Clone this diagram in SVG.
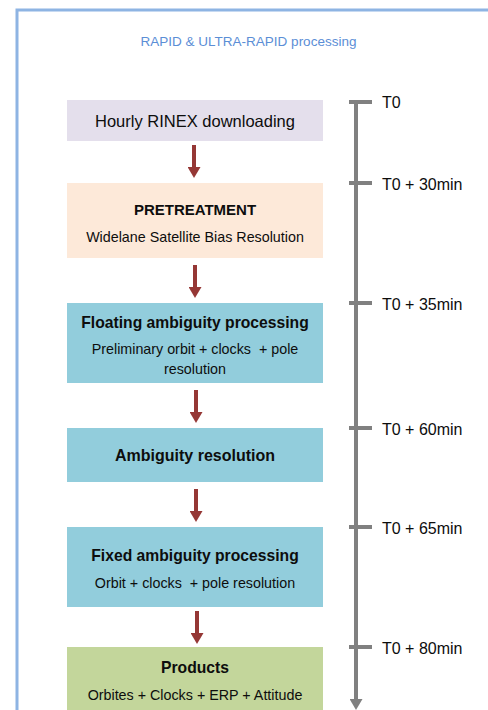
<svg xmlns="http://www.w3.org/2000/svg" width="488" height="710" viewBox="0 0 488 710">
<defs>
<marker id="ah" markerUnits="userSpaceOnUse" markerWidth="11" markerHeight="13" viewBox="0 0 11 13" refX="0" refY="6.5" orient="auto"><path d="M0,0 L11,6.5 L0,13 z" fill="#953735"/></marker>
<marker id="gh" markerUnits="userSpaceOnUse" markerWidth="11" markerHeight="13" viewBox="0 0 11 13" refX="0" refY="6.5" orient="auto"><path d="M0,0 L11,6.5 L0,13 z" fill="#808080"/></marker>
<style>
text{font-family:"Liberation Sans",Arial,sans-serif;fill:#0d0d0d;text-anchor:middle;white-space:pre}
.b{font-weight:bold;font-size:15.7px}
.s{font-size:14.3px}
.t{font-size:16px;text-anchor:start}
.flow{stroke:#953735;stroke-width:4;fill:none;marker-end:url(#ah)}
.tick{stroke:#808080;stroke-width:4;fill:none}
</style>
</defs>
<rect width="488" height="710" fill="#ffffff"/>
<g id="frame">
<path d="M17,710 L17,10 L488,10" fill="none" stroke="#8eb4e3" stroke-width="3"/>
<text x="248.5" y="46" style="font-size:13.5px;fill:#5b8ed6">RAPID &amp; ULTRA-RAPID processing</text>
</g>
<g id="n1"><rect x="67" y="100" width="256" height="41" fill="#e4dfec"/><text x="195" y="127" style="font-size:16.5px">Hourly RINEX downloading</text></g>
<g id="n2"><rect x="67" y="183" width="256" height="75" fill="#fde9d9"/><text class="b" x="195" y="215" style="font-size:15px">PRETREATMENT</text><text class="s" x="195" y="242">Widelane Satellite Bias Resolution</text></g>
<g id="n3"><rect x="67" y="303" width="256" height="80" fill="#92cddc"/><text class="b" x="195" y="328">Floating ambiguity processing</text><text class="s" x="195" y="354">Preliminary orbit + clocks  + pole</text><text class="s" x="195" y="374">resolution</text></g>
<g id="n4"><rect x="67" y="428" width="256" height="54" fill="#92cddc"/><text class="b" x="195" y="461" style="font-size:16px">Ambiguity resolution</text></g>
<g id="n5"><rect x="67" y="527" width="256" height="80" fill="#92cddc"/><text class="b" x="195" y="561">Fixed ambiguity processing</text><text class="s" x="195" y="588">Orbit + clocks  + pole resolution</text></g>
<g id="n6"><rect x="67" y="647" width="256" height="70" fill="#c3d69b"/><text class="b" x="195" y="673">Products</text><text class="s" x="195" y="700">Orbites + Clocks + ERP + Attitude</text></g>
<g id="connectors">
<line class="flow" x1="194" y1="145" x2="194" y2="167"/>
<line class="flow" x1="195" y1="265" x2="195" y2="287"/>
<line class="flow" x1="196" y1="390" x2="196" y2="412"/>
<line class="flow" x1="196" y1="489" x2="196" y2="511"/>
<line class="flow" x1="197" y1="611" x2="197" y2="633"/>
</g>
<g id="timeline">
<line x1="356" y1="100" x2="356" y2="699" stroke="#808080" stroke-width="4" marker-end="url(#gh)"/>
<line class="tick" x1="349" y1="102" x2="372" y2="102"/>
<line class="tick" x1="349" y1="183" x2="372" y2="183"/>
<line class="tick" x1="349" y1="303" x2="372" y2="303"/>
<line class="tick" x1="349" y1="428" x2="372" y2="428"/>
<line class="tick" x1="349" y1="527" x2="372" y2="527"/>
<line class="tick" x1="349" y1="647" x2="372" y2="647"/>
<text class="t" x="382" y="108">T0</text>
<text class="t" x="382" y="190">T0 + 30min</text>
<text class="t" x="382" y="310">T0 + 35min</text>
<text class="t" x="382" y="435">T0 + 60min</text>
<text class="t" x="382" y="534">T0 + 65min</text>
<text class="t" x="382" y="654">T0 + 80min</text>
</g>
</svg>
